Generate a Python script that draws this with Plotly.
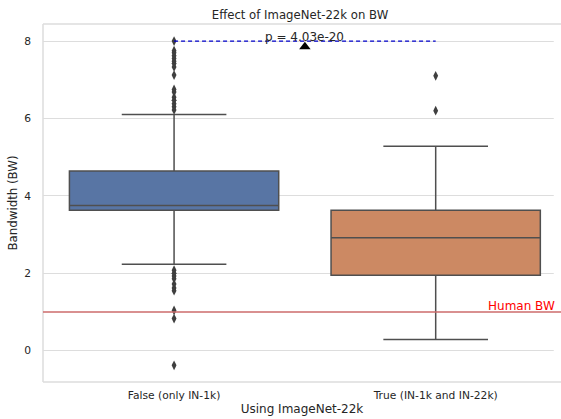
import plotly.graph_objects as go

categories = ["False (only IN-1k)", "True (IN-1k and IN-22k)"]
q1 = [3.63, 1.95]
median = [3.75, 2.92]
q3 = [4.64, 3.63]
lower_whisker = [2.23, 0.285]
upper_whisker = [6.10, 5.28]
outliers_false = [8.0, 7.75, 7.7, 7.62, 7.55, 7.48, 7.42, 7.33, 7.12,
                  6.75, 6.68, 6.55, 6.47, 6.38, 6.3, 6.22,
                  2.08, 2.0, 1.93, 1.86, 1.72, 1.62, 1.55, 1.04, 0.83, -0.38]
outliers_true = [7.1, 6.2]
box_colors = ["#5875a4", "#cc8963"]
human_bw = 1.0
p_text = "p = 4.03e-20"
sig_y = 8.0
marker_y = 7.85

fig = go.Figure()
for i in range(2):
    fig.add_trace(go.Box(
        x=[i], q1=[q1[i]], median=[median[i]], q3=[q3[i]],
        lowerfence=[lower_whisker[i]], upperfence=[upper_whisker[i]],
        width=0.8, whiskerwidth=0.5, fillcolor=box_colors[i],
        line=dict(color="#4f4f4f", width=1.5), boxpoints=False,
        showlegend=False, hoverinfo="skip"))

fig.add_trace(go.Scatter(
    x=[0] * len(outliers_false) + [1] * len(outliers_true),
    y=outliers_false + outliers_true, mode="markers",
    marker=dict(symbol="diamond-tall", size=7, color="#3f3f3f"),
    showlegend=False))

# significance line
fig.add_trace(go.Scatter(x=[0, 1], y=[sig_y, sig_y], mode="lines",
                         line=dict(color="#0000cc", width=1.3, dash="4px,3px"),
                         showlegend=False))
fig.add_trace(go.Scatter(x=[0.5], y=[marker_y], mode="markers",
                         marker=dict(symbol="triangle-up", size=10, color="black"),
                         showlegend=False))

fig.add_annotation(x=0.5, y=sig_y, text=p_text, showarrow=False,
                   yanchor="bottom", xanchor="center", yshift=-5,
                   font=dict(size=12, color="#262626"))
fig.add_annotation(x=1.2, y=human_bw, text="Human BW", showarrow=False,
                   yanchor="bottom", xanchor="left", yshift=-3, xshift=-2,
                   font=dict(size=12, color="red"))

# spines (left, top, bottom)
spine = dict(color="#dddddd", width=1.5)
fig.add_shape(type="line", xref="paper", yref="paper", x0=0, x1=0, y0=0, y1=1,
              line=spine, layer="below")
# mask a stray edge line at the right border of the plot area
fig.add_shape(type="rect", xref="paper", yref="paper", x0=0.986, x1=1.0,
              y0=0.004, y1=0.996, fillcolor="white", line=dict(width=0),
              layer="above")
fig.add_shape(type="line", xref="paper", yref="paper", x0=0, x1=1, y0=1, y1=1,
              line=spine, layer="above")
fig.add_shape(type="line", xref="paper", yref="paper", x0=0, x1=1, y0=0, y1=0,
              line=spine, layer="above")
# Human BW reference line
fig.add_shape(type="line", xref="paper", yref="y", x0=0, x1=1,
              y0=human_bw, y1=human_bw, line=dict(color="#cd6b6b", width=1.5),
              layer="above")

font = "DejaVu Sans"
fig.update_layout(
    template="none",
    width=561, height=419,
    margin=dict(l=43, r=0, t=24, b=37),
    plot_bgcolor="white", paper_bgcolor="white",
    font=dict(family=font, size=10.7, color="#262626"),
    title=dict(text="Effect of ImageNet-22k on BW", x=300 / 561,
               xanchor="center", y=1 - 15 / 419, yanchor="middle",
               font=dict(size=11.7, color="#262626")),
    xaxis=dict(range=[-0.501, 1.479], tickvals=[0, 1], ticktext=categories,
               showgrid=False, zeroline=False, showline=False, ticks="",
               ticklabelstandoff=5, automargin=False,
               title=dict(text="Using ImageNet-22k", standoff=3, font=dict(size=12))),
    yaxis=dict(range=[-0.81, 8.44], tickvals=[0, 2, 4, 6, 8],
               showgrid=True, gridcolor="#dddddd", gridwidth=1, zeroline=False,
               showline=False, ticks="", ticklabelstandoff=11, automargin=False,
               title=dict(text="Bandwidth (BW)", standoff=4, font=dict(size=11.8))),
)

fig.write_html("out.html", config={"staticPlot": True, "displayModeBar": False})
